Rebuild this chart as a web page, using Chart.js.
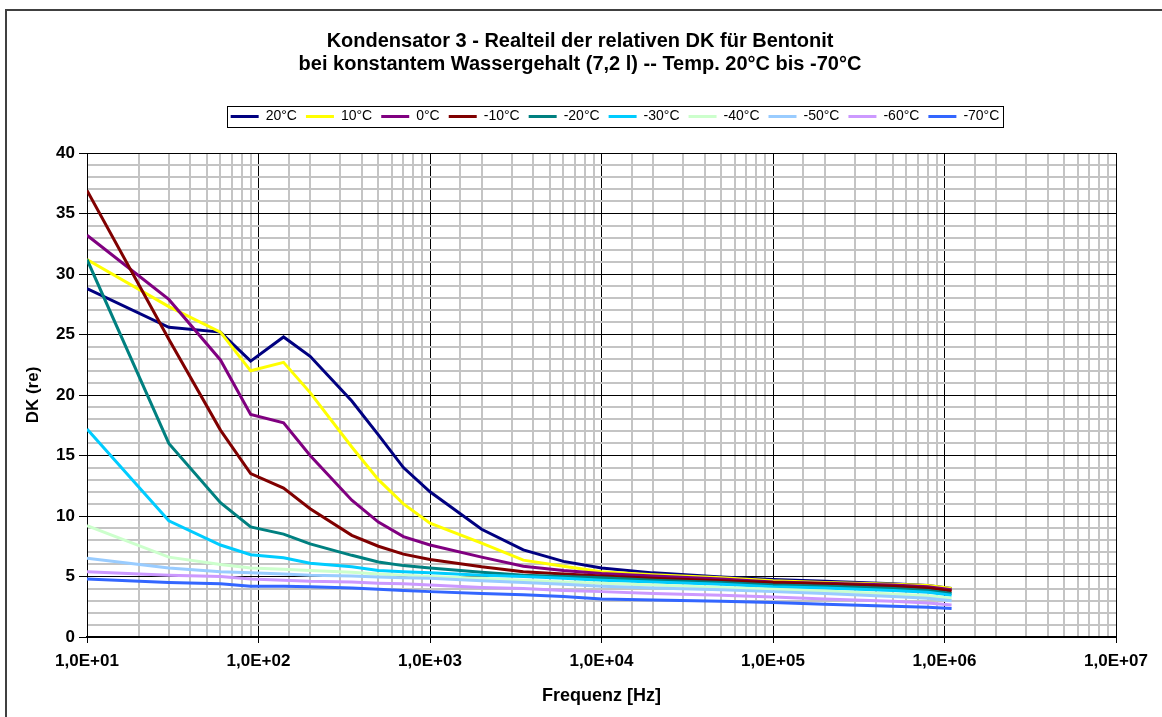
<!DOCTYPE html>
<html>
<head>
<meta charset="utf-8">
<script src="https://cdn.jsdelivr.net/npm/chart.js@4.4.0/dist/chart.umd.min.js"></script>
<style>
  html, body { margin: 0; padding: 0; background: #fff; overflow: hidden; }
  #wrap { position: relative; width: 1162px; height: 717px; overflow: hidden; }
  #frame { position: absolute; left: 5px; top: 9px; width: 1300px; height: 900px; border: 2px solid #404040; }
  canvas { position: absolute; left: 0; top: 0; }
</style>
</head>
<body>
<div id="wrap"><div id="frame"></div><canvas id="chart" width="1162" height="717"></canvas></div>
<script>
// Frequenzen [Hz]
const frequencies = [10, 30, 60, 90, 140, 200, 350, 500, 700, 1000, 2000, 3500, 6000, 10000, 20000, 50000, 100000, 200000, 500000, 800000, 1100000];

// DK (re) je Temperatur
const t20  = [28.8, 25.6, 25.2, 22.8, 24.8, 23.2, 19.5, 16.7, 14.0, 12.0, 8.9, 7.2, 6.25, 5.7, 5.3, 4.95, 4.75, 4.6, 4.4, 4.25, 4.0];
const t10  = [31.2, 27.3, 25.2, 22.0, 22.7, 20.2, 15.7, 13.0, 11.0, 9.4, 7.75, 6.35, 5.85, 5.4, 5.15, 4.9, 4.65, 4.5, 4.35, 4.25, 4.0];
const t0   = [33.2, 27.9, 22.9, 18.4, 17.7, 15.0, 11.3, 9.5, 8.3, 7.6, 6.6, 5.85, 5.5, 5.25, 5.05, 4.8, 4.55, 4.45, 4.3, 4.15, 3.9];
const tm10 = [36.9, 24.6, 17.1, 13.5, 12.3, 10.6, 8.4, 7.5, 6.85, 6.4, 5.8, 5.4, 5.2, 5.05, 4.85, 4.65, 4.5, 4.4, 4.2, 4.05, 3.8];
const tm20 = [31.2, 16.0, 11.1, 9.1, 8.5, 7.7, 6.75, 6.2, 5.9, 5.7, 5.35, 5.1, 5.0, 4.9, 4.7, 4.5, 4.3, 4.2, 4.0, 3.85, 3.6];
const tm30 = [17.2, 9.6, 7.6, 6.8, 6.55, 6.1, 5.8, 5.5, 5.4, 5.3, 5.1, 5.0, 4.85, 4.7, 4.55, 4.35, 4.15, 4.05, 3.85, 3.7, 3.45];
const tm40 = [9.2, 6.6, 6.0, 5.7, 5.6, 5.5, 5.35, 5.2, 5.1, 5.0, 4.85, 4.7, 4.55, 4.45, 4.3, 4.1, 3.95, 3.8, 3.55, 3.4, 3.2];
const tm50 = [6.5, 5.7, 5.4, 5.3, 5.2, 5.1, 5.05, 4.95, 4.9, 4.85, 4.65, 4.5, 4.35, 4.2, 4.05, 3.9, 3.75, 3.6, 3.35, 3.2, 3.0];
const tm60 = [5.4, 5.1, 5.0, 4.8, 4.7, 4.6, 4.55, 4.45, 4.4, 4.3, 4.1, 4.0, 3.85, 3.75, 3.6, 3.45, 3.3, 3.15, 2.95, 2.8, 2.65];
const tm70 = [4.8, 4.5, 4.4, 4.2, 4.2, 4.15, 4.05, 3.95, 3.85, 3.75, 3.6, 3.5, 3.35, 3.15, 3.05, 2.95, 2.85, 2.7, 2.55, 2.45, 2.35];

const seriesLabels = ['20°C', '10°C', '0°C', '-10°C', '-20°C', '-30°C', '-40°C', '-50°C', '-60°C', '-70°C'];
const seriesValues = [t20, t10, t0, tm10, tm20, tm30, tm40, tm50, tm60, tm70];
const seriesColors = ['#000080', '#FFFF00', '#800080', '#800000', '#008080', '#00CCFF', '#CCFFCC', '#99CCFF', '#CC99FF', '#3366FF'];

const yTicks = [0, 5, 10, 15, 20, 25, 30, 35, 40];

const FONT = '"Liberation Sans", Arial, sans-serif';

const isDecade = (v) => {
  const e = Math.round(Math.log10(v));
  return Math.abs(v - Math.pow(10, e)) < 1e-6 * v;
};
const sci = (v) => {
  const e = Math.round(Math.log10(v));
  return '1,0E+' + String(e).padStart(2, '0');
};

// Titel/Legende verschieben wie im Original + Rahmen um die Legende
const boxFix = {
  id: 'boxFix',
  afterUpdate(chart) {
    const tb = chart.titleBlock;
    tb.left += 11; tb.right += 11;

    const lg = chart.legend;
    const pad = lg.options.labels.padding;
    const lw = lg.lineWidths[0];
    const start = (lg.left + pad + lg.right - lw) / 2;
    const center = start + (lw - pad) / 2;
    const dx = 615 - center;
    const dy = 116.5 - (lg.top + pad + 7);
    lg.left += dx; lg.right += dx;
    lg.top += dy; lg.bottom += dy;
  },
  afterDraw(chart) {
    const lg = chart.legend;
    const pad = lg.options.labels.padding;
    const lw = lg.lineWidths[0];
    const start = (lg.left + pad + lg.right - lw) / 2;
    const x0 = Math.round(start - 4) + 0.5;
    const x1 = Math.round(start + lw - pad + 4) + 0.5;
    const ctx = chart.ctx;
    ctx.save();
    ctx.strokeStyle = '#000';
    ctx.lineWidth = 1;
    ctx.strokeRect(x0, 106.5, x1 - x0, 21);
    ctx.restore();
  }
};

const datasets = seriesLabels.map((label, i) => ({
  label: label,
  data: frequencies.map((f, j) => ({ x: f, y: seriesValues[i][j] })),
  borderColor: seriesColors[i],
  backgroundColor: seriesColors[i],
  borderWidth: 3,
  pointRadius: 0,
  tension: 0,
  order: seriesLabels.length - i
}));

new Chart(document.getElementById('chart'), {
  type: 'line',
  data: { datasets: datasets },
  plugins: [boxFix],
  options: {
    responsive: false,
    animation: false,
    devicePixelRatio: 1,
    layout: { padding: { top: 18, left: 22, right: 46, bottom: 10 } },
    plugins: {
      title: {
        display: true,
        text: ['Kondensator 3 - Realteil der relativen DK für Bentonit', 'bei konstantem Wassergehalt (7,2 l) -- Temp. 20°C bis -70°C'],
        color: '#000',
        font: { family: FONT, size: 20, weight: 'bold', lineHeight: 1.15 },
        padding: { top: 12, bottom: 44 }
      },
      legend: {
        display: true,
        position: 'top',
        labels: {
          color: '#000',
          font: { family: FONT, size: 14 },
          usePointStyle: true,
          pointStyle: 'line',
          pointStyleWidth: 28,
          padding: 9,
          sort: (a, b) => a.datasetIndex - b.datasetIndex
        }
      },
      tooltip: { enabled: false }
    },
    scales: {
      x: {
        type: 'logarithmic',
        min: 10,
        max: 10000000,
        afterFit: (s) => { s.height = 70; },
        border: { display: true, color: '#000', width: 2 },
        grid: {
          color: (c) => isDecade(c.tick.value) ? '#000' : '#c4c4c4',
          lineWidth: (c) => isDecade(c.tick.value) ? 1 : 2,
          tickColor: (c) => isDecade(c.tick.value) ? '#000' : 'rgba(0,0,0,0)',
          tickLength: 6
        },
        ticks: {
          autoSkip: false,
          maxRotation: 0,
          padding: 8,
          color: '#000',
          font: { family: FONT, size: 17, weight: 'bold' },
          callback: (v) => isDecade(v) ? sci(v) : ''
        },
        title: {
          display: true,
          text: 'Frequenz [Hz]',
          color: '#000',
          font: { family: FONT, size: 18, weight: 'bold' },
          padding: { top: 0, bottom: 0 }
        }
      },
      y: {
        min: 0,
        max: 40,
        afterFit: (s) => { s.width = 65; },
        border: { display: true, color: '#000', width: 1 },
        grid: {
          color: (c) => yTicks.includes(c.tick.value) ? '#000' : '#c4c4c4',
          lineWidth: (c) => yTicks.includes(c.tick.value) ? 1 : 2,
          tickColor: (c) => yTicks.includes(c.tick.value) ? '#000' : 'rgba(0,0,0,0)',
          tickLength: 8
        },
        ticks: {
          stepSize: 1,
          autoSkip: false,
          padding: 4,
          color: '#000',
          font: { family: FONT, size: 17, weight: 'bold' },
          callback: (v) => yTicks.includes(v) ? String(v) : ''
        },
        title: {
          display: true,
          text: 'DK (re)',
          color: '#000',
          font: { family: FONT, size: 17, weight: 'bold' },
          padding: { top: 1, bottom: 0 }
        }
      }
    }
  }
});
</script>
</body>
</html>
